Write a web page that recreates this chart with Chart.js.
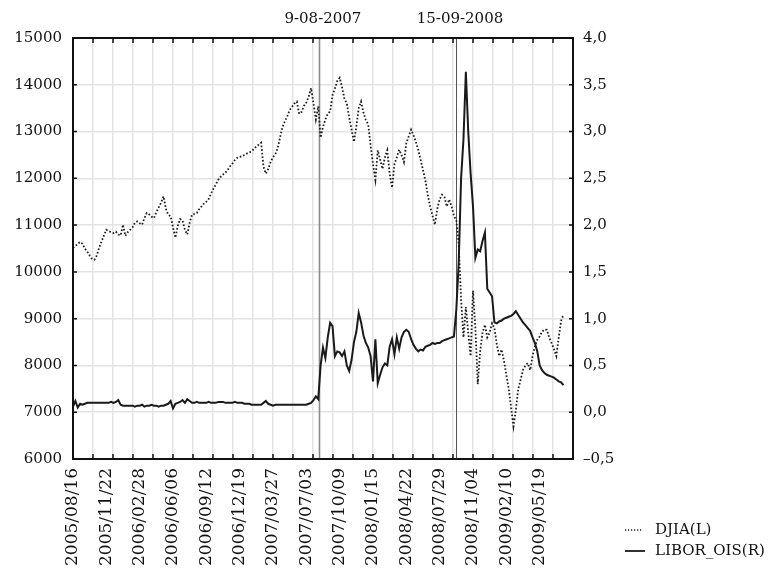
<!DOCTYPE html>
<html>
<head>
<meta charset="utf-8">
<script src="https://cdn.jsdelivr.net/npm/chart.js@4/dist/chart.umd.min.js"></script>
<style>
  html, body { margin: 0; padding: 0; background: #ffffff; }
  canvas { display: block; }
</style>
</head>
<body>
<canvas id="c" width="782" height="576"></canvas>
<script>
// ---------- data (weekly observations starting 2005/08/16) ----------
const startDate = '2005/08/16';

const tickLabels = ['2005/08/16','2005/11/22','2006/02/28','2006/06/06','2006/09/12',
  '2006/12/19','2007/03/27','2007/07/03','2007/10/09','2008/01/15','2008/04/22',
  '2008/07/29','2008/11/04','2009/02/10','2009/05/19'];

const djia = [
  10513,10550,10600,10640,10600,10500,10430,10350,10280,10260,
  10350,10520,10650,10780,10900,10870,10850,10830,10860,10800,
  10780,11010,10770,10850,10900,10950,11050,11080,11040,11010,
  11150,11260,11230,11180,11150,11280,11380,11480,11615,11350,
  11220,11190,10950,10730,10980,11130,11100,10900,10800,11050,
  11225,11240,11260,11340,11400,11460,11500,11560,11680,11780,
  11870,11970,12030,12080,12120,12180,12260,12320,12390,12440,
  12460,12470,12500,12530,12550,12580,12630,12680,12720,12760,
  12250,12100,12200,12350,12450,12520,12650,12880,13100,13220,
  13330,13460,13530,13600,13640,13380,13420,13550,13620,13750,
  13930,13600,13260,13540,12870,13100,13260,13380,13430,13780,
  13920,14080,14150,13950,13700,13600,13300,13040,12780,13100,
  13500,13640,13400,13250,13150,12700,12300,11970,12600,12400,
  12200,12450,12600,12100,11800,12300,12450,12610,12500,12350,
  12750,12900,13040,12920,12780,12610,12400,12180,11950,11650,
  11400,11200,11010,11350,11550,11650,11600,11400,11550,11400,
  11200,11100,10600,9400,8600,9250,8700,8200,9600,8800,
  7600,8300,8700,8870,8600,8700,8900,8800,8450,8200,
  8340,8100,7800,7500,7100,6700,7050,7500,7700,7900,
  8000,8050,7900,8200,8400,8550,8620,8720,8770,8760,
  8600,8480,8350,8200,8600,8950,9090
];

const liborOis = [
  0.06,0.12,0.05,0.09,0.08,0.09,0.10,0.10,0.10,0.10,
  0.10,0.10,0.10,0.10,0.10,0.10,0.11,0.10,0.11,0.13,
  0.08,0.07,0.07,0.07,0.07,0.07,0.06,0.07,0.07,0.08,
  0.06,0.07,0.07,0.08,0.07,0.07,0.06,0.07,0.07,0.08,
  0.09,0.12,0.04,0.09,0.10,0.11,0.13,0.10,0.14,0.12,
  0.10,0.10,0.11,0.10,0.10,0.10,0.10,0.11,0.10,0.10,
  0.10,0.11,0.11,0.11,0.10,0.10,0.10,0.10,0.11,0.10,
  0.10,0.10,0.09,0.09,0.09,0.08,0.08,0.08,0.08,0.08,
  0.10,0.12,0.09,0.08,0.07,0.08,0.08,0.08,0.08,0.08,
  0.08,0.08,0.08,0.08,0.08,0.08,0.08,0.08,0.08,0.09,
  0.10,0.13,0.17,0.14,0.50,0.69,0.58,0.80,0.955,0.92,
  0.60,0.65,0.64,0.60,0.65,0.50,0.44,0.56,0.75,0.86,
  1.06,0.96,0.82,0.74,0.69,0.60,0.33,0.78,0.31,0.40,
  0.48,0.52,0.50,0.70,0.78,0.62,0.80,0.68,0.80,0.86,
  0.88,0.86,0.78,0.72,0.68,0.65,0.67,0.66,0.70,0.71,
  0.72,0.74,0.73,0.74,0.74,0.76,0.77,0.78,0.79,0.80,
  0.81,1.10,1.60,2.50,2.92,3.64,3.00,2.55,2.20,1.65,
  1.74,1.72,1.83,1.92,1.32,1.28,1.24,0.96,0.95,0.97,
  0.98,1.00,1.01,1.02,1.03,1.05,1.08,1.04,1.00,0.96,
  0.93,0.90,0.87,0.80,0.74,0.65,0.50,0.45,0.42,0.40,
  0.39,0.38,0.37,0.35,0.33,0.32,0.29
];

const events = [
  { date: '2007/08/09', text: '9-08-2007' },
  { date: '2008/09/15', text: '15-09-2008' }
];

const seriesNames = ['DJIA(L)', 'LIBOR_OIS(R)'];

// ---------- helpers ----------
function weeksFromStart(d) {
  const p = s => { const a = s.split('/').map(Number); return Date.UTC(a[0], a[1]-1, a[2]); };
  return (p(d) - p(startDate)) / (7 * 86400000);
}
const tickWeeks = tickLabels.map(weeksFromStart);
const X_MAX = 210;
const GRID_N = 25;

const FONT = "'DejaVu Serif', 'Liberation Serif', serif";
const INK = '#111111';
const GRID = '#e3e3e3';

const decor = {
  id: 'decor',
  beforeDatasetsDraw(chart) {
    const ctx = chart.ctx, a = chart.chartArea, xs = chart.scales.x;
    ctx.save();
    events.forEach((ev, k) => {
      const px = Math.round(xs.getPixelForValue(weeksFromStart(ev.date))) + 0.5;
      ctx.strokeStyle = k === 0 ? '#8a8a8a' : '#555555';
      ctx.lineWidth = k === 0 ? 1.6 : 1;
      ctx.beginPath(); ctx.moveTo(px, a.top); ctx.lineTo(px, a.bottom); ctx.stroke();
    });
    ctx.restore();
  },
  afterDraw(chart) {
    const ctx = chart.ctx, a = chart.chartArea;
    const xs = chart.scales.x, xg = chart.scales.xg, y = chart.scales.y, y2 = chart.scales.y2;
    ctx.save();
    // tick marks (inward)
    ctx.strokeStyle = INK; ctx.lineWidth = 1.5;
    ctx.beginPath();
    xg.ticks.forEach(t => {
      const px = xg.getPixelForValue(t.value);
      ctx.moveTo(px, a.bottom); ctx.lineTo(px, a.bottom - 5);
      ctx.moveTo(px, a.top); ctx.lineTo(px, a.top + 5);
    });
    y.ticks.forEach(t => {
      const py = y.getPixelForValue(t.value);
      ctx.moveTo(a.left, py); ctx.lineTo(a.left + 4, py);
    });
    y2.ticks.forEach(t => {
      const py = y2.getPixelForValue(t.value);
      ctx.moveTo(a.right, py); ctx.lineTo(a.right - 4, py);
    });
    ctx.stroke();
    // frame
    ctx.lineWidth = 2;
    ctx.strokeRect(a.left, a.top, a.right - a.left, a.bottom - a.top);
    // event labels
    ctx.fillStyle = INK;
    ctx.font = '15px ' + FONT;
    ctx.textAlign = 'center'; ctx.textBaseline = 'middle';
    events.forEach(ev => {
      const px = xs.getPixelForValue(weeksFromStart(ev.date));
      ctx.fillText(ev.text, px + 4, 19);
    });
    // legend
    const ds = chart.data.datasets;
    const lx = 625, ly = [530, 551];
    ctx.textAlign = 'left';
    ds.forEach((d, i) => {
      ctx.strokeStyle = d.borderColor;
      ctx.lineWidth = i === 0 ? 1.3 : 1.8;
      ctx.setLineDash(i === 0 ? [1.2, 1.8] : []);
      ctx.beginPath(); ctx.moveTo(lx, ly[i]); ctx.lineTo(lx + (i === 0 ? 18 : 20), ly[i]); ctx.stroke();
      ctx.setLineDash([]);
      ctx.fillText(d.label, lx + 30, ly[i]);
    });
    ctx.restore();
  }
};

new Chart(document.getElementById('c'), {
  type: 'line',
  data: {
    datasets: [
      {
        label: seriesNames[0],
        data: djia.map((v, i) => ({ x: i, y: v })),
        yAxisID: 'y', xAxisID: 'x',
        borderColor: '#1a1a1a', borderWidth: 1.8, borderDash: [1.6, 2.0],
        pointRadius: 0, tension: 0, fill: false
      },
      {
        label: seriesNames[1],
        data: liborOis.map((v, i) => ({ x: i, y: v })),
        yAxisID: 'y2', xAxisID: 'x',
        borderColor: '#1a1a1a', borderWidth: 2,
        pointRadius: 0, tension: 0, fill: false
      }
    ]
  },
  options: {
    responsive: false,
    animation: false,
    events: [],
    layout: { padding: { top: 38, left: 0, right: 0, bottom: 0 } },
    plugins: { legend: { display: false }, tooltip: { enabled: false } },
    scales: {
      x: {
        type: 'linear', position: 'bottom', min: 0, max: X_MAX,
        afterBuildTicks: s => { s.ticks = tickWeeks.map(v => ({ value: v })); },
        afterFit: s => { s.height = 117; },
        grid: { display: false, drawTicks: false },
        border: { display: false },
        ticks: {
          autoSkip: false, maxRotation: 90, minRotation: 90, padding: 9,
          color: INK, font: { family: FONT, size: 17 },
          callback: (v, i) => tickLabels[i]
        }
      },
      xg: {
        type: 'linear', position: 'bottom', min: 0, max: X_MAX,
        afterBuildTicks: s => {
          const t = [];
          for (let k = 0; k <= GRID_N; k++) t.push({ value: X_MAX * k / GRID_N });
          s.ticks = t;
        },
        afterFit: s => { s.height = 0; },
        grid: { color: GRID, lineWidth: 1.5, drawTicks: false },
        border: { display: false },
        ticks: { display: false }
      },
      y: {
        type: 'linear', position: 'left', min: 6000, max: 15000,
        afterFit: s => { s.width = 73; },
        grid: { color: GRID, lineWidth: 1.5, drawTicks: false },
        border: { display: false },
        ticks: { stepSize: 1000, padding: 11, color: INK, font: { family: FONT, size: 15 },
          callback: v => String(v) }
      },
      y2: {
        type: 'linear', position: 'right', min: -0.5, max: 4,
        afterFit: s => { s.width = 782 - 573; },
        grid: { display: false, drawTicks: false },
        border: { display: false },
        ticks: {
          stepSize: 0.5, padding: 10, color: INK, font: { family: FONT, size: 15 },
          callback: v => (v < 0 ? '\u2013' : '') + Math.abs(v).toFixed(1).replace('.', ',')
        }
      }
    }
  },
  plugins: [decor]
});
</script>
</body>
</html>
